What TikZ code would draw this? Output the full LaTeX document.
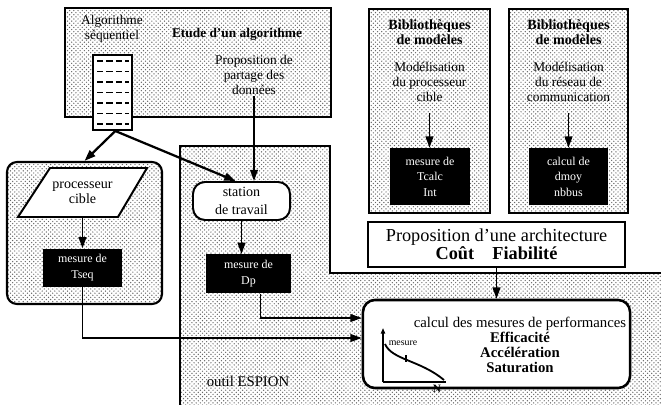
\documentclass[tikz,border=0pt]{standalone}
\usepackage{fontspec}
\setmainfont{Liberation Serif}
\usetikzlibrary{positioning, patterns, arrows.meta}

\begin{document}
\begin{tikzpicture}[x=0.025cm, y=-0.025cm,
    stipple/.style={pattern=crosshatch dots, pattern color=black!60},
    frame/.style={draw, line width=1.5pt},
    whitebox/.style={draw, fill=white, line width=1.4pt},
    blackbox/.style={fill=black, text=white, align=center, inner sep=1pt,
        font=\fontsize{8.5}{11}\selectfont},
    txt/.style={align=center, inner sep=1pt, font=\fontsize{9.5}{10.6}\selectfont},
    arr/.style={line width=1.2pt, -{Triangle[length=8pt, width=5.5pt]}}]

    \useasboundingbox (0,0) rectangle (661,405);

    % ESPION area (only its inner edges are drawn)

    \fill[stipple] (180,146) -- (330,146) -- (330,273) -- (661,273)
        -- (661,405) -- (180,405) -- cycle;
    \draw[line width=1.2pt] (180,405) -- (180,146) -- (330,146) -- (330,273) -- (661,273);

    % Boxes

    \node[frame, stipple, minimum width=6.65cm, minimum height=2.725cm] (etude) at (198,62.5) {};
    \node[frame, stipple, rounded corners=0.25cm, minimum width=3.875cm,
        minimum height=3.55cm] (poste) at (84.5,233) {};
    \node[frame, stipple, minimum width=3.025cm, minimum height=5.1cm] (lib1) at (429.5,111) {};
    \node[frame, stipple, minimum width=2.975cm, minimum height=5.1cm] (lib2) at (568.5,111) {};

    % Nodes

    \node[txt] (algo) at (112,29) {Algorithme\\séquentiel};
    \node[txt, font=\fontsize{9.5}{11}\selectfont\bfseries] (etudetitle) at (237,34) {Etude d'un algorithme};
    \node[txt] (partage) at (254,75) {Proposition de\\partage des\\données};

    \node[draw, fill=white, line width=1.4pt, minimum width=0.975cm,
        minimum height=1.875cm] (doc) at (112.5,92.5) {};
    \foreach \r in {61,71.5,...,125}
        \draw[line width=1.3pt, dash pattern=on 4.5pt off 2.2pt] (97,\r) -- (129,\r);

    % slanted box for the target processor
    \draw[whitebox] (50,168) -- (147,168) -- (118,217) -- (18,217) -- cycle;
    \node[txt, minimum height=1.225cm, font=\fontsize{10}{10.6}\selectfont] (proc) at (82.5,192.5) {processeur\\cible};
    \node[blackbox, minimum width=1.95cm, minimum height=0.95cm,
        below=0.775cm of proc] (tseq) {mesure de\\Tseq};

    \node[whitebox, rounded corners=0.3cm, minimum width=2.425cm, minimum height=0.95cm,
        txt, font=\fontsize{10}{12.5}\selectfont] (station) at (241.5,201) {station\\de travail};
    \node[blackbox, minimum width=2.125cm, minimum height=0.975cm,
        below=0.825cm of station, xshift=0.175cm] (dp) {mesure de\\Dp};

    \node[txt, font=\fontsize{10}{10.5}\selectfont\bfseries] (bib1) at (429.5,32) {Bibliothèques\\de modèles};
    \node[txt, font=\fontsize{10}{10.5}\selectfont\bfseries] (bib2) at (568.5,32) {Bibliothèques\\de modèles};
    \node[txt] (model1) at (429.5,82) {Modélisation\\du processeur\\cible};
    \node[txt] (model2) at (568.5,82) {Modélisation\\du réseau de\\communication};
    \node[blackbox, minimum width=2cm, minimum height=1.425cm] (tcalc) at (430,176.5) {mesure de\\Tcalc\\Int};
    \node[blackbox, minimum width=1.975cm, minimum height=1.425cm] (dmoy) at (568.5,176.5) {calcul de\\dmoy\\nbbus};

    \node[whitebox, minimum width=6.425cm, minimum height=1.125cm, align=center,
        font=\fontsize{13}{13}\selectfont] (archi) at (496.5,244.5)
        {Proposition d'une architecture\\\textbf{Coût\quad Fiabilité}};

    \node[whitebox, line width=1.8pt, rounded corners=0.3cm, minimum width=6.675cm,
        minimum height=2.2cm] (perf) at (496.5,344) {};
    \node[txt, font=\fontsize{10.5}{10.6}\selectfont] (perftext) at (520,345)
        {calcul des mesures de performances\\\textbf{Efficacité}\\\textbf{Accélération}\\\textbf{Saturation}};

    % small curve inside the results box
    \coordinate (o) at (383,382);
    \draw[line width=1pt, -{Triangle[length=4pt, width=3pt]}] (o) -- (383,328);
    \draw[line width=1pt] (o) -- (446,382);
    \draw[line width=1.3pt] (385,344) .. controls (392,360) and (420,360) .. (444,380);
    \draw[line width=1.3pt] (406,355) -- (406,362);
    \node[font=\fontsize{7}{7}\selectfont, inner sep=0pt] (mes) at (403,343) {mesure};
    \node[font=\fontsize{8}{8}\selectfont\bfseries, inner sep=0pt] (n) at (437,389) {N};

    \node[txt, font=\fontsize{10.5}{12}\selectfont] (espion) at (248,381) {outil ESPION};

    % Edges

    \draw[arr, line width=1.6pt] ([xshift=2pt]doc.south) -- (poste.north);
    \draw[arr, line width=1.6pt] ([xshift=2pt]doc.south) -- ([xshift=-0.15cm]station.north);
    \draw[arr] (partage.south) -- (partage.south |- station.north);
    \draw[arr] (proc.south) -- (tseq.north);
    \draw[arr] (station.south) -- (station.south |- dp.north);
    \draw[arr, shorten <=0.25cm] (model1.south) -- (model1.south |- tcalc.north);
    \draw[arr, shorten <=0.25cm] (model2.south) -- (model2.south |- dmoy.north);
    \draw[arr] (archi.south) -- (perf.north);
    \draw[arr, line width=1pt] (tseq.south) |- ([yshift=0.15cm]perf.west);
    \draw[arr, line width=1pt] ([xshift=0.3cm]dp.south) |- ([yshift=0.65cm]perf.west);

\end{tikzpicture}
\end{document}
